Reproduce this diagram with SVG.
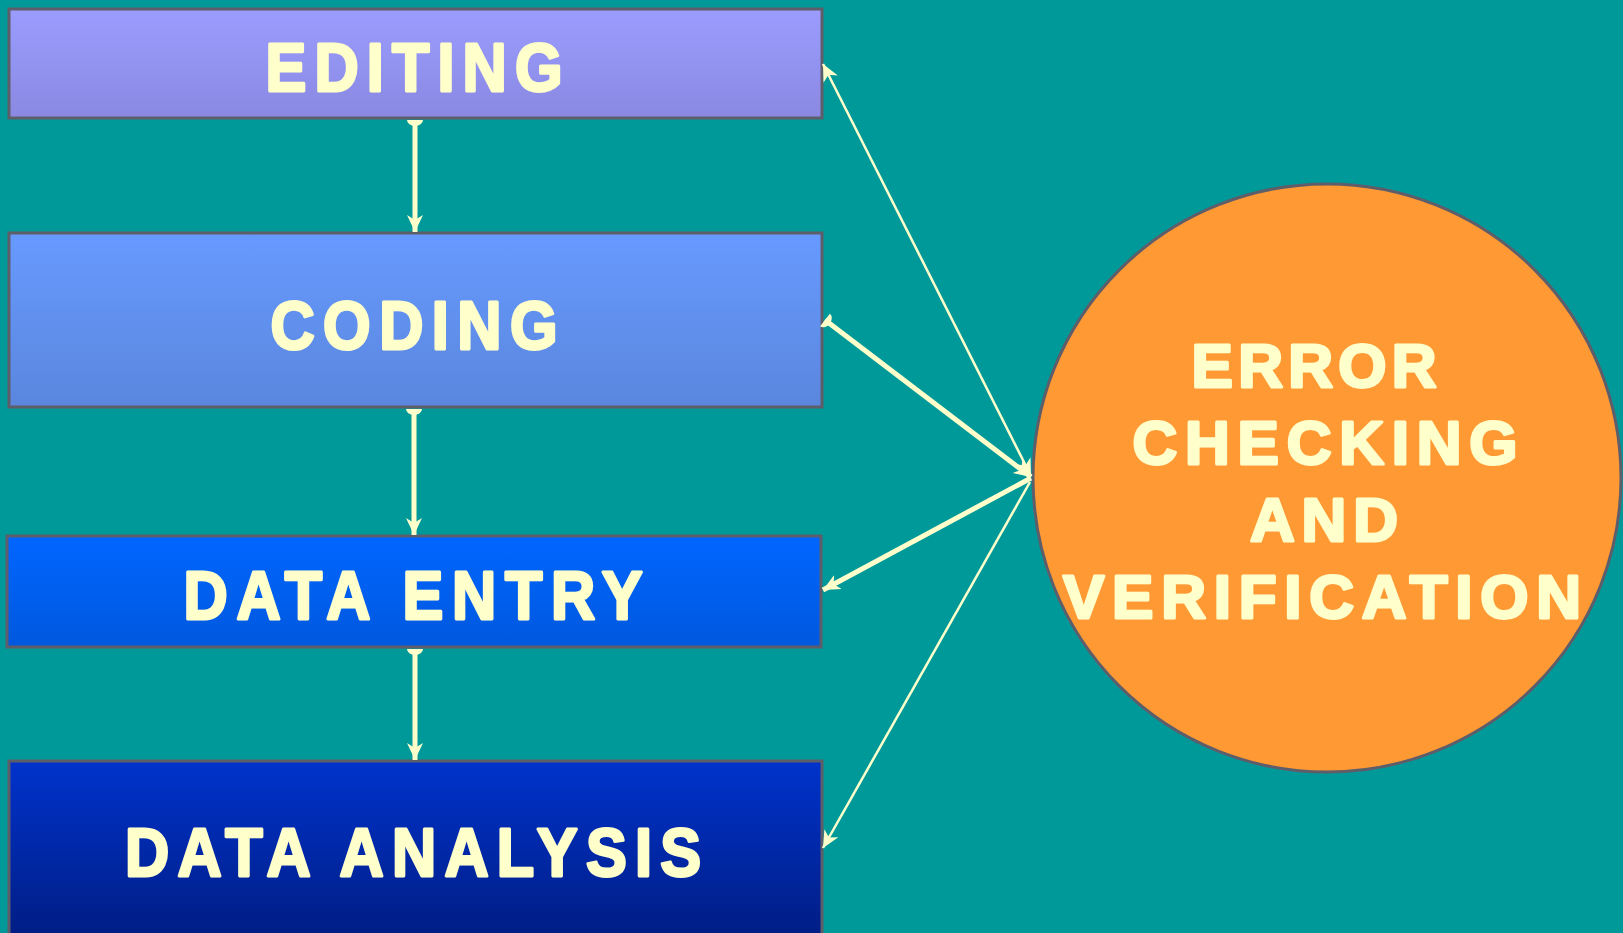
<svg xmlns="http://www.w3.org/2000/svg" width="1623" height="933" viewBox="0 0 1623 933">
  <style>
    .box { stroke: #5e5e6a; stroke-width: 3; }
    .lbl { font-family: "Liberation Sans", Arial, sans-serif; font-weight: bold; fill: #ffffcc; stroke: #ffffcc; stroke-linejoin: round; paint-order: stroke; text-anchor: middle; }
    .lbl-box { font-size: 68px; stroke-width: 3; }
    .lbl-circ { font-size: 62px; stroke-width: 3; }
    .wire { stroke: #ffffcc; fill: none; }
    .thick { stroke-width: 5; }
    .thin { stroke-width: 2.5; }
  </style>
  <defs>
    <linearGradient id="gEdit" x1="0" y1="0" x2="0" y2="1">
      <stop offset="0" stop-color="#9c9cff"/>
      <stop offset="1" stop-color="#8989e2"/>
    </linearGradient>
    <linearGradient id="gCode" x1="0" y1="0" x2="0" y2="1">
      <stop offset="0" stop-color="#679aff"/>
      <stop offset="1" stop-color="#5a86dd"/>
    </linearGradient>
    <linearGradient id="gEntry" x1="0" y1="0" x2="0" y2="1">
      <stop offset="0" stop-color="#0066ff"/>
      <stop offset="1" stop-color="#0058de"/>
    </linearGradient>
    <linearGradient id="gAnalysis" gradientUnits="userSpaceOnUse" x1="0" y1="761" x2="0" y2="961">
      <stop offset="0" stop-color="#0033cc"/>
      <stop offset="1" stop-color="#001a7a"/>
    </linearGradient>
    <marker id="arrow" markerUnits="userSpaceOnUse" viewBox="0 0 18 18" markerWidth="18" markerHeight="18" refX="17" refY="9" orient="auto-start-reverse">
      <path d="M0,1 L17,9 L0,17 L5,9 z" fill="#ffffcc"/>
    </marker>
    <marker id="oval" markerUnits="userSpaceOnUse" viewBox="-1 -9 8 18" markerWidth="8" markerHeight="18" refX="0" refY="0" orient="auto">
      <path d="M0,-8 A6,8 0 0 1 0,8 z" fill="#ffffcc"/>
    </marker>
  </defs>

  <rect width="1623" height="933" fill="#009999"/>

  <!-- process steps: labels are set in a slightly condensed face (horizontal squeeze) -->
  <g id="editing">
    <rect class="box" x="9" y="9" width="813" height="109" fill="url(#gEdit)"/>
    <text class="lbl lbl-box" transform="translate(414 0) scale(0.9 1)" x="0" y="91" textLength="330" lengthAdjust="spacing">EDITING</text>
  </g>
  <g id="coding">
    <rect class="box" x="9" y="233" width="813" height="174" fill="url(#gCode)"/>
    <text class="lbl lbl-box" transform="translate(414 0) scale(0.9 1)" x="0" y="349" textLength="319" lengthAdjust="spacing">CODING</text>
  </g>
  <g id="data-entry">
    <rect class="box" x="7" y="536" width="814" height="111" fill="url(#gEntry)"/>
    <text class="lbl lbl-box" transform="translate(413 0) scale(0.9 1)" x="0" y="619" textLength="510" lengthAdjust="spacing">DATA ENTRY</text>
  </g>
  <g id="data-analysis">
    <rect class="box" x="9" y="761" width="813" height="200" fill="url(#gAnalysis)"/>
    <text class="lbl lbl-box" transform="translate(413 0) scale(0.9 1)" x="0" y="876" textLength="640" lengthAdjust="spacing">DATA ANALYSIS</text>
  </g>

  <!-- checking step -->
  <g id="error-checking">
    <circle cx="1327" cy="478" r="294" fill="#ff9933" stroke="#5e5e6a" stroke-width="3"/>
    <text class="lbl lbl-circ" x="1314" y="387" textLength="245">ERROR</text>
    <text class="lbl lbl-circ" x="1325" y="464" textLength="385">CHECKING</text>
    <text class="lbl lbl-circ" x="1324" y="541" textLength="148">AND</text>
    <text class="lbl lbl-circ" x="1322" y="618" textLength="518">VERIFICATION</text>
  </g>

  <!-- connectors -->
  <g id="connectors">
    <line class="wire thick" x1="415" y1="120" x2="415" y2="232" marker-start="url(#oval)" marker-end="url(#arrow)"/>
    <line class="wire thick" x1="414" y1="409" x2="414" y2="535" marker-start="url(#oval)" marker-end="url(#arrow)"/>
    <line class="wire thick" x1="415" y1="649" x2="415" y2="760" marker-start="url(#oval)" marker-end="url(#arrow)"/>

    <line class="wire thin" x1="823" y1="64" x2="1031" y2="476" marker-start="url(#arrow)" marker-end="url(#arrow)"/>
    <line class="wire thick" x1="825" y1="320" x2="1031" y2="477" marker-start="url(#oval)" marker-end="url(#arrow)"/>
    <line class="wire thick" x1="1031" y1="478" x2="823" y2="590" marker-end="url(#arrow)"/>
    <line class="wire thin" x1="1030" y1="482" x2="823" y2="848" marker-end="url(#arrow)"/>
  </g>
</svg>
